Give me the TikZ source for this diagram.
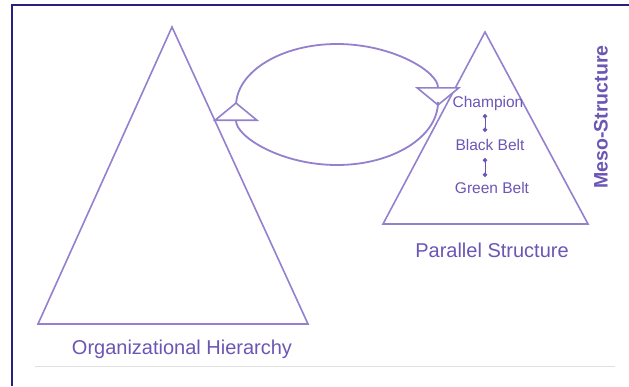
\documentclass[tikz,border=0pt]{standalone}
\usepackage{fontspec}
\setmainfont{Liberation Sans}
\usetikzlibrary{arrows.meta}
\definecolor{lineC}{RGB}{148,128,206}
\definecolor{textC}{RGB}{108,86,180}
\definecolor{frameC}{RGB}{40,32,128}
\begin{document}
\begin{tikzpicture}[x=1pt,y=-1pt,
  tri/.style={draw=lineC,line width=1.6pt,line join=miter},
  cyc/.style={draw=lineC,line width=1.8pt,
    -{Triangle[open,fill=white,length=19pt,width=46pt,line width=1.6pt]}},
  lbl/.style={text=textC,inner sep=0pt,font=\fontsize{20}{22}\selectfont},
  small/.style={text=textC,inner sep=0pt,font=\fontsize{15.5}{17}\selectfont},
  link/.style={draw=textC,line width=0.8pt,{Circle[length=4.5pt]}-{Circle[length=4.5pt]}}]
\useasboundingbox (0,0) rectangle (629,386);
\fill[white] (0,0) rectangle (629,386);
% frame
\draw[frameC,line width=2pt] (12,386) -- (12,5) -- (629,5);
\draw[black!12,line width=0.6pt] (35,366) -- (615,366);
% triangles
\draw[tri] (172,27) -- (308,324) -- (38,324) -- cycle;
\draw[tri] (485,32) -- (588,224) -- (383,224) -- cycle;
% cycle arcs
\coordinate (L) at (236,106);
\coordinate (R) at (438,102);
\draw[cyc] (L) arc[start angle=180,end angle=360,x radius=101,y radius=62];
\draw[cyc] (R) arc[start angle=0,end angle=180,x radius=101,y radius=63];
% labels
\node[lbl] (oh) at (182,349) {Organizational Hierarchy};
\node[lbl] (ps) at (492,250) {Parallel Structure};
\node[lbl,font=\fontsize{19.5}{22}\selectfont\bfseries,rotate=90] (ms) at (601,117) {Meso-Structure};
\node[small] (ch) at (488,103) {Champion};
\node[small] (bb) at (490,145) {Black Belt};
\node[small] (gb) at (492,188) {Green Belt};
\coordinate (a1) at (485,114);
\coordinate (a2) at (485,132);
\coordinate (b1) at (485,158);
\coordinate (b2) at (485,177);
\draw[link] (a1) -- (a2);
\draw[link] (b1) -- (b2);
\end{tikzpicture}
\end{document}
